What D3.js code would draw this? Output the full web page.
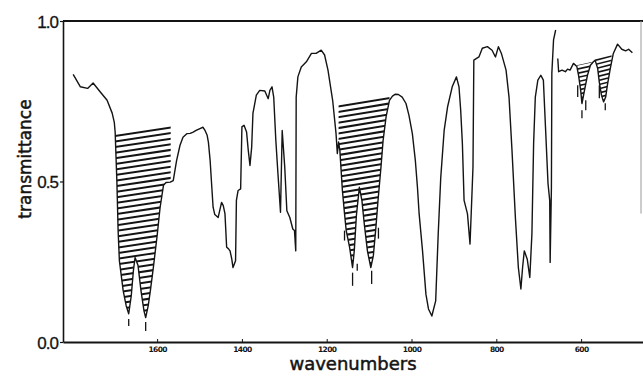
<!DOCTYPE html>
<html>
<head>
<meta charset="utf-8">
<script src="https://cdn.jsdelivr.net/npm/d3@7"></script>
<style>
  html, body { margin: 0; padding: 0; background: #fff; }
  svg { display: block; }
</style>
</head>
<body>
<svg id="chart" width="643" height="376"></svg>
<script>
// IR transmittance spectrum: [wavenumber (cm-1), transmittance]
const spectrumMain = [
  [1798,0.834],[1781,0.795],[1764,0.790],[1751,0.807],[1734,0.779],[1718,0.753],
  [1706,0.713],[1701,0.684],[1699,0.654],[1695,0.503],[1692,0.347],[1689,0.253],
  [1680,0.159],[1673,0.113],[1667,0.088],[1661,0.144],[1656,0.222],[1652,0.263],
  [1645,0.238],[1638,0.159],[1631,0.097],[1627,0.076],[1621,0.113],[1616,0.159],
  [1609,0.231],[1600,0.331],[1593,0.419],[1585,0.488],[1579,0.497],[1569,0.498],
  [1562,0.503],[1554,0.566],[1546,0.613],[1539,0.638],[1530,0.649],[1522,0.650],
  [1515,0.654],[1508,0.659],[1499,0.665],[1492,0.669],[1487,0.659],[1482,0.644],
  [1479,0.622],[1475,0.566],[1471,0.482],[1468,0.420],[1464,0.397],[1456,0.388],
  [1448,0.435],[1444,0.425],[1440,0.400],[1436,0.295],[1432,0.291],[1428,0.284],
  [1424,0.259],[1421,0.232],[1415,0.253],[1413,0.441],[1409,0.472],[1403,0.477],
  [1400,0.670],[1395,0.675],[1389,0.654],[1385,0.597],[1381,0.550],[1377,0.607],
  [1374,0.712],[1366,0.769],[1358,0.784],[1346,0.782],[1338,0.758],[1334,0.784],
  [1329,0.795],[1325,0.763],[1320,0.628],[1315,0.524],[1309,0.404],[1305,0.659],
  [1299,0.545],[1294,0.409],[1287,0.388],[1280,0.352],[1276,0.347],[1273,0.284],
  [1272,0.763],[1268,0.826],[1260,0.857],[1248,0.873],[1236,0.899],[1225,0.899],
  [1213,0.909],[1205,0.894],[1197,0.847],[1186,0.753],[1178,0.649],[1175,0.587],
  [1172,0.623],[1169,0.597],[1163,0.472],[1158,0.400],[1154,0.347],[1146,0.295],
  [1142,0.259],[1139,0.232],[1135,0.284],[1130,0.394],[1123,0.482],[1117,0.441],
  [1111,0.363],[1104,0.284],[1096,0.232],[1090,0.269],[1084,0.357],[1079,0.441],
  [1072,0.545],[1067,0.628],[1060,0.701],[1052,0.753],[1045,0.766],[1038,0.772],
  [1031,0.771],[1022,0.763],[1013,0.743],[1006,0.706],[998,0.649],[991,0.566],
  [986,0.482],[982,0.399],[974,0.284],[966,0.149],[960,0.103],[952,0.081],
  [943,0.128],[937,0.337],[931,0.513],[923,0.659],[915,0.732],[904,0.795],
  [894,0.826],[888,0.795],[884,0.722],[880,0.618],[876,0.441],[868,0.399],
  [862,0.305],[858,0.441],[855,0.545],[853,0.878],[841,0.888],[833,0.915],
  [821,0.920],[810,0.909],[802,0.888],[795,0.920],[788,0.899],[777,0.847],
  [770,0.763],[763,0.597],[755,0.388],[748,0.232],[742,0.165],[738,0.232],
  [734,0.284],[727,0.258],[721,0.201],[716,0.337],[712,0.618],[708,0.763],
  [702,0.816],[695,0.831],[689,0.816],[684,0.670],[678,0.493],[674,0.441],
  [673,0.248],[670,0.482],[669,0.837],[665,0.941],[660,0.972]
];
// low-frequency part, recorded after the pen offset
const spectrumTail = [
  [655,0.883],[653,0.842],[645,0.847],[637,0.842],[632,0.850],[626,0.847],
  [618,0.868],[610,0.858],[606,0.831],[601,0.784],[598,0.743],[592,0.784],
  [585,0.831],[578,0.862],[571,0.873],[567,0.878],[561,0.853],[557,0.809],
  [552,0.769],[547,0.748],[542,0.763],[538,0.800],[531,0.853],[524,0.899],
  [514,0.928],[504,0.912],[495,0.907],[488,0.912],[479,0.901]
];

// hatched (integrated) bands: wavenumber limits and baseline transmittance at each limit
const bandFrom  = [1699, 1172, 610, 567];
const bandTo    = [1568, 1052, 575, 528];
const bandTopA  = [0.654, 0.743, 0.862, 0.883];
const bandTopB  = [0.680, 0.769, 0.872, 0.896];
const bandPitch = [5.6, 5.4, 4.2, 4.2];

// small position marks under band components: [wavenumber, T upper, T lower]
const bandMarks = [
  [1667,0.072,0.050],[1627,0.062,0.034],
  [1158,0.347,0.316],[1139,0.216,0.175],[1128,0.244,0.222],[1094,0.222,0.181],[1078,0.356,0.322],
  [608,0.800,0.763],[598,0.722,0.697],[589,0.753,0.722],[557,0.800,0.759],[543,0.744,0.722]
];

const xTicks = [1600, 1400, 1200, 1000, 800, 600];
const yTicks = [0.0, 0.5, 1.0];
const yTickLabels = ["0.0", "0.5", "1.0"];

const svg = d3.select("#chart");
const ink = "#141414";

const x = d3.scaleLinear().domain([1822, 454]).range([63, 643]);
const y = d3.scaleLinear().domain([0, 1]).range([342, 21]);

// axes
const xAxis = d3.axisBottom(x).tickValues(xTicks).tickSize(-3).tickSizeOuter(0).tickPadding(5)
  .tickFormat(d3.format("d"));
const gx = svg.append("g").attr("transform", `translate(0,${y(0)})`).call(xAxis);
gx.select(".domain").attr("stroke", ink).attr("stroke-width", 2.2);
gx.selectAll(".tick line").attr("stroke", ink).attr("stroke-width", 1);
gx.selectAll(".tick text").attr("fill", ink)
  .style("font-family", "DejaVu Sans").style("font-weight", "bold")
  .style("font-size", "7.5px").style("letter-spacing", "-0.6px");

const yAxis = d3.axisLeft(y).tickValues(yTicks).tickSize(3).tickSizeOuter(0).tickPadding(2)
  .tickFormat((d, i) => yTickLabels[i]);
const gy = svg.append("g").attr("transform", `translate(${x.range()[0]},0)`).call(yAxis);
gy.select(".domain").attr("stroke", ink).attr("stroke-width", 1.6);
gy.selectAll(".tick line").attr("stroke", ink).attr("stroke-width", 1.2);
gy.selectAll(".tick text").attr("fill", ink)
  .attr("stroke", ink).attr("stroke-width", 0.3)
  .style("font-family", "Liberation Sans").style("font-size", "17px")
  .style("letter-spacing", "-1px").attr("dy", "0.36em");

// top frame line at T = 1 and faint right edge
svg.append("line")
  .attr("x1", x.range()[0]).attr("x2", x.range()[1])
  .attr("y1", y(1)).attr("y2", y(1))
  .attr("stroke", ink).attr("stroke-width", 2);
svg.append("line")
  .attr("x1", 641).attr("x2", 641).attr("y1", y(1)).attr("y2", y(0.4))
  .attr("stroke", "#9a9a9a").attr("stroke-width", 1);

// axis titles
svg.append("text")
  .attr("x", x(1138)).attr("y", 370)
  .attr("text-anchor", "middle")
  .attr("stroke", ink).attr("stroke-width", 0.5)
  .style("font-family", "DejaVu Sans").style("font-size", "18px")
  .attr("fill", ink).text("wavenumbers");
svg.append("text")
  .attr("transform", `translate(31,${y(0.57)}) rotate(-90)`)
  .attr("text-anchor", "middle")
  .attr("stroke", ink).attr("stroke-width", 0.5)
  .style("font-family", "DejaVu Sans").style("font-size", "17px")
  .attr("fill", ink).text("transmittance");

// linear interpolation along a spectrum segment (descending wavenumbers)
function interp(series, w) {
  for (let i = 0; i < series.length - 1; i++) {
    const [w0, t0] = series[i], [w1, t1] = series[i + 1];
    if (w <= w0 && w >= w1) {
      const f = (w0 - w) / (w0 - w1 || 1);
      return t0 + f * (t1 - t0);
    }
  }
  return series[series.length - 1][1];
}

// hatching of the integrated bands
const defs = svg.append("defs");
bandFrom.forEach((wFrom, i) => {
  const wTo = bandTo[i];
  const series = wFrom > 660 ? spectrumMain : spectrumTail;
  const inside = series.filter(d => d[0] < wFrom && d[0] > wTo);
  const poly = [
    [wFrom, bandTopA[i]], [wTo, bandTopB[i]], [wTo, interp(series, wTo)],
    ...inside.slice().reverse(), [wFrom, interp(series, wFrom)]
  ].map(d => [x(d[0]), y(d[1])]);
  const id = "band" + i;
  defs.append("clipPath").attr("id", id)
    .append("polygon").attr("points", poly.map(p => p.join(",")).join(" "));
  const xs = poly.map(p => p[0]), ys = poly.map(p => p[1]);
  const x0 = d3.min(xs) - 2, x1 = d3.max(xs) + 2;
  const y0 = d3.min(ys), y1 = d3.max(ys);
  const slope = (y(bandTopB[i]) - y(bandTopA[i])) / (x(wTo) - x(wFrom));
  const rise = slope * (x1 - x0);
  const lines = d3.range(y0 - Math.abs(rise) - 2, y1 + 4, bandPitch[i]);
  svg.append("g").attr("clip-path", `url(#${id})`)
    .selectAll("line").data(lines).join("line")
    .attr("x1", x0).attr("x2", x1)
    .attr("y1", d => d + 1).attr("y2", d => d + 1 + rise)
    .attr("stroke", ink).attr("stroke-width", i < 2 ? 2 : 1.6);
});

// component marks
svg.append("g").selectAll("line").data(bandMarks).join("line")
  .attr("x1", d => x(d[0])).attr("x2", d => x(d[0]))
  .attr("y1", d => y(d[1])).attr("y2", d => y(d[2]))
  .attr("stroke", ink).attr("stroke-width", 1.3);

// spectrum trace
const line = d3.line().x(d => x(d[0])).y(d => y(d[1]));
[spectrumMain, spectrumTail].forEach(s => {
  svg.append("path").datum(s).attr("d", line)
    .attr("fill", "none").attr("stroke", ink)
    .attr("stroke-width", 1.4).attr("stroke-linejoin", "round");
});
</script>
</body>
</html>
